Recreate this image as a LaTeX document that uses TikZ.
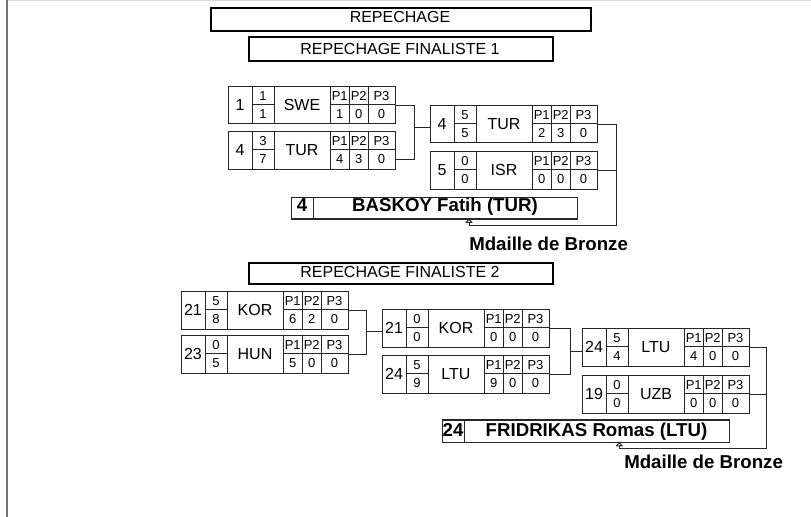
\documentclass[tikz,border=0pt]{standalone}
\usepackage{fontspec}
\setmainfont{Liberation Sans}
\usetikzlibrary{arrows.meta}
\tikzset{
  x=0.75pt, y=-0.75pt,
  matchframe/.style={draw=black!85, line width=0.75pt, inner sep=0, minimum width=167*0.75pt, minimum height=37.5*0.75pt, anchor=north west},
  cellline/.style={draw=black!85, line width=0.75pt},
  conn/.style={draw=black!85, line width=0.75pt},
  titleframe/.style={draw=black, line width=1.5pt, inner sep=0, anchor=north west},
  winframe/.style={draw=black!85, line width=0.9pt, inner sep=0, anchor=north west},
  bigtxt/.style={font=\fontsize{12pt}{14pt}\selectfont, inner sep=0, anchor=base},
  smalltxt/.style={font=\fontsize{9.75pt}{11pt}\selectfont, inner sep=0, anchor=base},
  boldtxt/.style={font=\bfseries\fontsize{14pt}{16pt}\selectfont, inner sep=0, anchor=base},
  wintip/.style={-{Triangle[open,length=3.5pt,width=5.5pt]}}
}
\newcommand\drawmatch[9]{%
\begin{scope}[shift={(#2)}]
\node[matchframe] (#1) at (0,0) {};
\draw[cellline] (24,0) -- (24,37.5) (46,0) -- (46,37.5) (102,0) -- (102,37.5)
  (121.5,0) -- (121.5,37.5) (140,0) -- (140,37.5)
  (24,18.75) -- (46,18.75) (102,18.75) -- (167,18.75);
\node[bigtxt] (#1-seed) at (12,24.45) {#3};
\node[smalltxt] (#1-s1) at (35,14.05) {#4};
\node[smalltxt] (#1-s2) at (35,32.75) {#5};
\node[bigtxt] (#1-nat) at (74,24.45) {#6};
\node[smalltxt] (#1-l1) at (111.75,14.05) {P1};
\node[smalltxt] (#1-l2) at (130.75,14.05) {P2};
\node[smalltxt] (#1-l3) at (153.5,14.05) {P3};
\node[smalltxt] (#1-v1) at (111.75,32.75) {#7};
\node[smalltxt] (#1-v2) at (130.75,32.75) {#8};
\node[smalltxt] (#1-v3) at (153.5,32.75) {#9};
\end{scope}}
\begin{document}
\begin{tikzpicture}
\useasboundingbox (0,0) rectangle (811,517);
\fill[white] (0,0) rectangle (811,517);
% page edges
\draw[line width=0.75pt, black!15] (6.7,0.4) -- (811,0.4);
\draw[line width=1.5pt, black!55] (6.7,0) -- (6.7,517);

% titles
\node[titleframe, minimum width=380*0.75pt, minimum height=23*0.75pt] (t0) at (210,7) {};
\node[bigtxt] (t0-txt) at (400,22.7) {REPECHAGE};
\node[titleframe, minimum width=304*0.75pt, minimum height=24*0.75pt] (t1) at (248,36.5) {};
\node[bigtxt] (t1-txt) at (400,55) {REPECHAGE FINALISTE 1};
\node[titleframe, minimum width=304*0.75pt, minimum height=20.5*0.75pt] (t2) at (248,262) {};
\node[bigtxt] (t2-txt) at (400,277) {REPECHAGE FINALISTE 2};

% group 1
\drawmatch{swe}{228,86}{1}{1}{1}{SWE}{1}{0}{0}
\drawmatch{turA}{228,131}{4}{3}{7}{TUR}{4}{3}{0}
\drawmatch{turB}{430,105}{4}{5}{5}{TUR}{2}{3}{0}
\drawmatch{isr}{430,151}{5}{0}{0}{ISR}{0}{0}{0}

\coordinate (j1) at (414.5,128);
\draw[conn] (swe.east) -| (j1);
\draw[conn] ([yshift=-6.75pt]turA.east) -| (j1);
\draw[conn] (j1) -- (j1 -| turB.west);

\node[winframe, minimum width=286*0.75pt, minimum height=21.5*0.75pt] (bas1) at (291,196.8) {};
\draw[cellline] ([xshift=16.5pt]bas1.north west) -- ([xshift=16.5pt]bas1.south west);
\node[boldtxt] (bas1-seed) at (302,211.3) {4};
\node[boldtxt] (bas1-name) at (445,211.3) {BASKOY Fatih (TUR)};
\node[boldtxt, anchor=base west] (med1) at (469,250) {Mdaille de Bronze};

\coordinate (k1) at (616,225.5);
\coordinate (a1) at (469,218.3);
\draw[conn] (turB.east) -| (k1);
\draw[conn] (isr.east) -- (isr.east -| k1);
\draw[conn, wintip] (k1) -| (a1);

% group 2
\drawmatch{korA}{181,291}{21}{5}{8}{KOR}{6}{2}{0}
\drawmatch{hun}{181,335}{23}{0}{5}{HUN}{5}{0}{0}
\drawmatch{korB}{382,309}{21}{0}{0}{KOR}{0}{0}{0}
\drawmatch{ltuB}{382,355}{24}{5}{9}{LTU}{9}{0}{0}
\drawmatch{ltuC}{582,328}{24}{5}{4}{LTU}{4}{0}{0}
\drawmatch{uzb}{582,375}{19}{0}{0}{UZB}{0}{0}{0}

\coordinate (j2) at (366.7,331);
\draw[conn] (korA.east) -| (j2);
\draw[conn] (hun.east) -| (j2);
\draw[conn] (j2) -- (j2 -| korB.west);

\coordinate (j3) at (570,351);
\draw[conn] (korB.east) -| (j3);
\draw[conn] (ltuB.east) -| (j3);
\draw[conn] (j3) -- (j3 -| ltuC.west);

\node[winframe, minimum width=287*0.75pt, minimum height=22.4*0.75pt] (fri) at (442,419.3) {};
\draw[cellline] ([xshift=16.5pt]fri.north west) -- ([xshift=16.5pt]fri.south west);
\node[boldtxt] (fri-seed) at (453,436.2) {24};
\node[boldtxt] (fri-name) at (596.5,436.2) {FRIDRIKAS Romas (LTU)};
\node[boldtxt, anchor=base west] (med2) at (624,468) {Mdaille de Bronze};

\coordinate (k2) at (766.7,448.3);
\coordinate (a2) at (619.3,441.7);
\draw[conn] (ltuC.east) -| (k2);
\draw[conn] (uzb.east) -- (uzb.east -| k2);
\draw[conn, wintip] (k2) -| (a2);
\end{tikzpicture}
\end{document}
